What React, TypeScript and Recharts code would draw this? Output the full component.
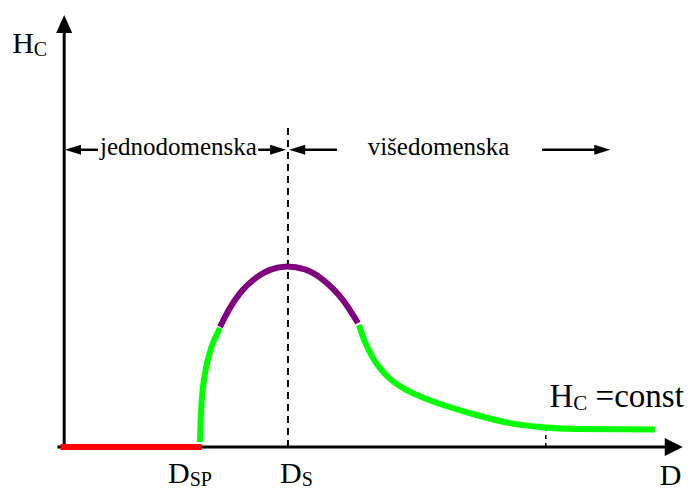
import React from "react";
import { LineChart, Line, XAxis, YAxis, ReferenceLine, ReferenceDot } from "recharts";

// Single-domain (red) segment: D below D_SP, Hc = 0
const redD = [-0.6, 22.2];
const redH = [0, 0];
// Rising single-domain branch (green), listed from top to bottom
const riseD = [25.14, 24.0, 23.04, 22.4, 22.07, 21.91];
const riseH = [27.55, 24.07, 19.4, 13.9, 7.87, 1.16];
// Peak around D_S (purple)
const peakD = [25.14, 26.75, 28.37, 31.6, 33.2, 35.96, 38.85, 41.76, 44.98, 47.4];
const peakH = [27.8, 32.2, 35.6, 39.8, 41.0, 41.8, 41.1, 38.7, 34.0, 28.7];
// Multi-domain decay (green)
const decayD = [47.56, 48.53, 49.82, 52.08, 54.66, 57.88, 61.44, 65.95, 71.44, 76.77, 82.41, 95.32];
const decayH = [28.24, 24.31, 20.6, 16.44, 13.66, 11.46, 9.61, 7.64, 5.67, 4.63, 4.17, 4.05];

const zip = (ds: number[], hs: number[]) => ds.map((d, i) => ({ d, h: hs[i] }));

const SERIF = '"Liberation Serif", "Times New Roman", serif';

// annotation anchors (data units)
const DS_X = 36.1;
const DASH_TOP = 74.5;
const CONST_X = 77.7;
const ARROW_Y = 68.8;

const arrowShape = (len: number, half: number, sw: number) => (props: any) => {
  const { x1, y1, x2, y2 } = props;
  const dx = x2 - x1;
  const dy = y2 - y1;
  const L = Math.hypot(dx, dy) || 1;
  const ux = dx / L;
  const uy = dy / L;
  const bx = x2 - ux * len;
  const by = y2 - uy * len;
  const px = -uy;
  const py = ux;
  return (
    <g>
      <line x1={x1} y1={y1} x2={bx + ux * 2} y2={by + uy * 2} stroke="#000" strokeWidth={sw} />
      <polygon
        points={`${x2},${y2} ${bx + px * half},${by + py * half} ${bx - px * half},${by - py * half}`}
        fill="#000"
      />
    </g>
  );
};

const textShape = (main: string, sub: string, rest: string, size: number = 30, subSize: number = 20) => (props: any) => {
  const { cx, cy } = props;
  return (
    <text x={cx} y={cy} fontFamily={SERIF} fontSize={size} fill="#000">
      <tspan>{main}</tspan>
      {sub ? (
        <tspan fontSize={subSize} dy={3}>
          {sub}
        </tspan>
      ) : null}
      {rest ? <tspan dy={sub ? -3 : 0}>{rest}</tspan> : null}
    </text>
  );
};

const smallText = (label: string) => (props: any) => {
  const { cx, cy } = props;
  return (
    <text x={cx} y={cy} fontFamily={SERIF} fontSize={25} fill="#000" textAnchor="middle">
      {label}
    </text>
  );
};

export default function App() {
  return (
    <div style={{ position: "absolute", left: 0, top: 0, background: "#fff" }}>
      <LineChart width={689} height={491} margin={{ top: 15, left: 58, right: 5, bottom: 44 }}>
        <XAxis type="number" dataKey="d" domain={[-1, 100]} hide />
        <YAxis type="number" dataKey="h" domain={[0, 100]} hide />

        {/* axes with arrowheads */}
        <ReferenceLine
          segment={[{ x: 0, y: 0 }, { x: 0, y: 100 }]}
          ifOverflow="visible"
          shape={arrowShape(18, 8, 3)}
        />
        <ReferenceLine
          segment={[{ x: -1.1, y: 0 }, { x: 99.8, y: 0 }]}
          ifOverflow="visible"
          shape={arrowShape(18, 9, 3)}
        />

        {/* D_S dashed line and small const tick */}
        <ReferenceLine
          segment={[{ x: DS_X, y: 0 }, { x: DS_X, y: DASH_TOP }]}
          ifOverflow="visible"
          stroke="#000"
          strokeWidth={2}
          strokeDasharray="7 5"
        />
        <ReferenceLine
          segment={[{ x: CONST_X, y: 0 }, { x: CONST_X, y: 3.9 }]}
          ifOverflow="visible"
          stroke="#000"
          strokeWidth={1.5}
          strokeDasharray="4 4"
        />

        {/* region arrows */}
        <ReferenceLine segment={[{ x: 5.46, y: ARROW_Y }, { x: 0.13, y: ARROW_Y }]} ifOverflow="visible" shape={arrowShape(16, 5, 2.5)} />
        <ReferenceLine segment={[{ x: 31.3, y: ARROW_Y }, { x: 35.8, y: ARROW_Y }]} ifOverflow="visible" shape={arrowShape(16, 5, 2.5)} />
        <ReferenceLine segment={[{ x: 44.0, y: ARROW_Y }, { x: 36.3, y: ARROW_Y }]} ifOverflow="visible" shape={arrowShape(16, 5, 2.5)} />
        <ReferenceLine segment={[{ x: 77.1, y: ARROW_Y }, { x: 88.1, y: ARROW_Y }]} ifOverflow="visible" shape={arrowShape(16, 5, 2.5)} />

        {/* curves */}
        <Line data={zip(redD, redH)} dataKey="h" type="linear" stroke="#ff0000" strokeWidth={6} dot={false} isAnimationActive={false} />
        <Line data={zip(riseD, riseH)} dataKey="h" type="monotoneY" stroke="#00ff00" strokeWidth={6} dot={false} isAnimationActive={false} />
        <Line data={zip(peakD, peakH)} dataKey="h" type="monotone" stroke="#800080" strokeWidth={6} dot={false} isAnimationActive={false} />
        <Line data={zip(decayD, decayH)} dataKey="h" type="monotone" stroke="#00ff00" strokeWidth={6} dot={false} isAnimationActive={false} />

        {/* texts */}
        <ReferenceDot x={-8.4} y={91.2} r={0} ifOverflow="visible" shape={textShape("H", "C", "")} />
        <ReferenceDot x={18.44} y={67.6} r={0} ifOverflow="visible" shape={smallText("jednodomenska")} />
        <ReferenceDot x={60.39} y={67.6} r={0} ifOverflow="visible" shape={smallText("višedomenska")} />
        <ReferenceDot x={16.75} y={-8.4} r={0} ifOverflow="visible" shape={textShape("D", "SP", "")} />
        <ReferenceDot x={34.82} y={-8.4} r={0} ifOverflow="visible" shape={textShape("D", "S", "")} />
        <ReferenceDot x={96.1} y={-8.8} r={0} ifOverflow="visible" shape={textShape("D", "", "")} />
        <ReferenceDot x={78.3} y={9.26} r={0} ifOverflow="visible" shape={textShape("H", "C", " =const", 33, 21)} />
      </LineChart>
    </div>
  );
}
